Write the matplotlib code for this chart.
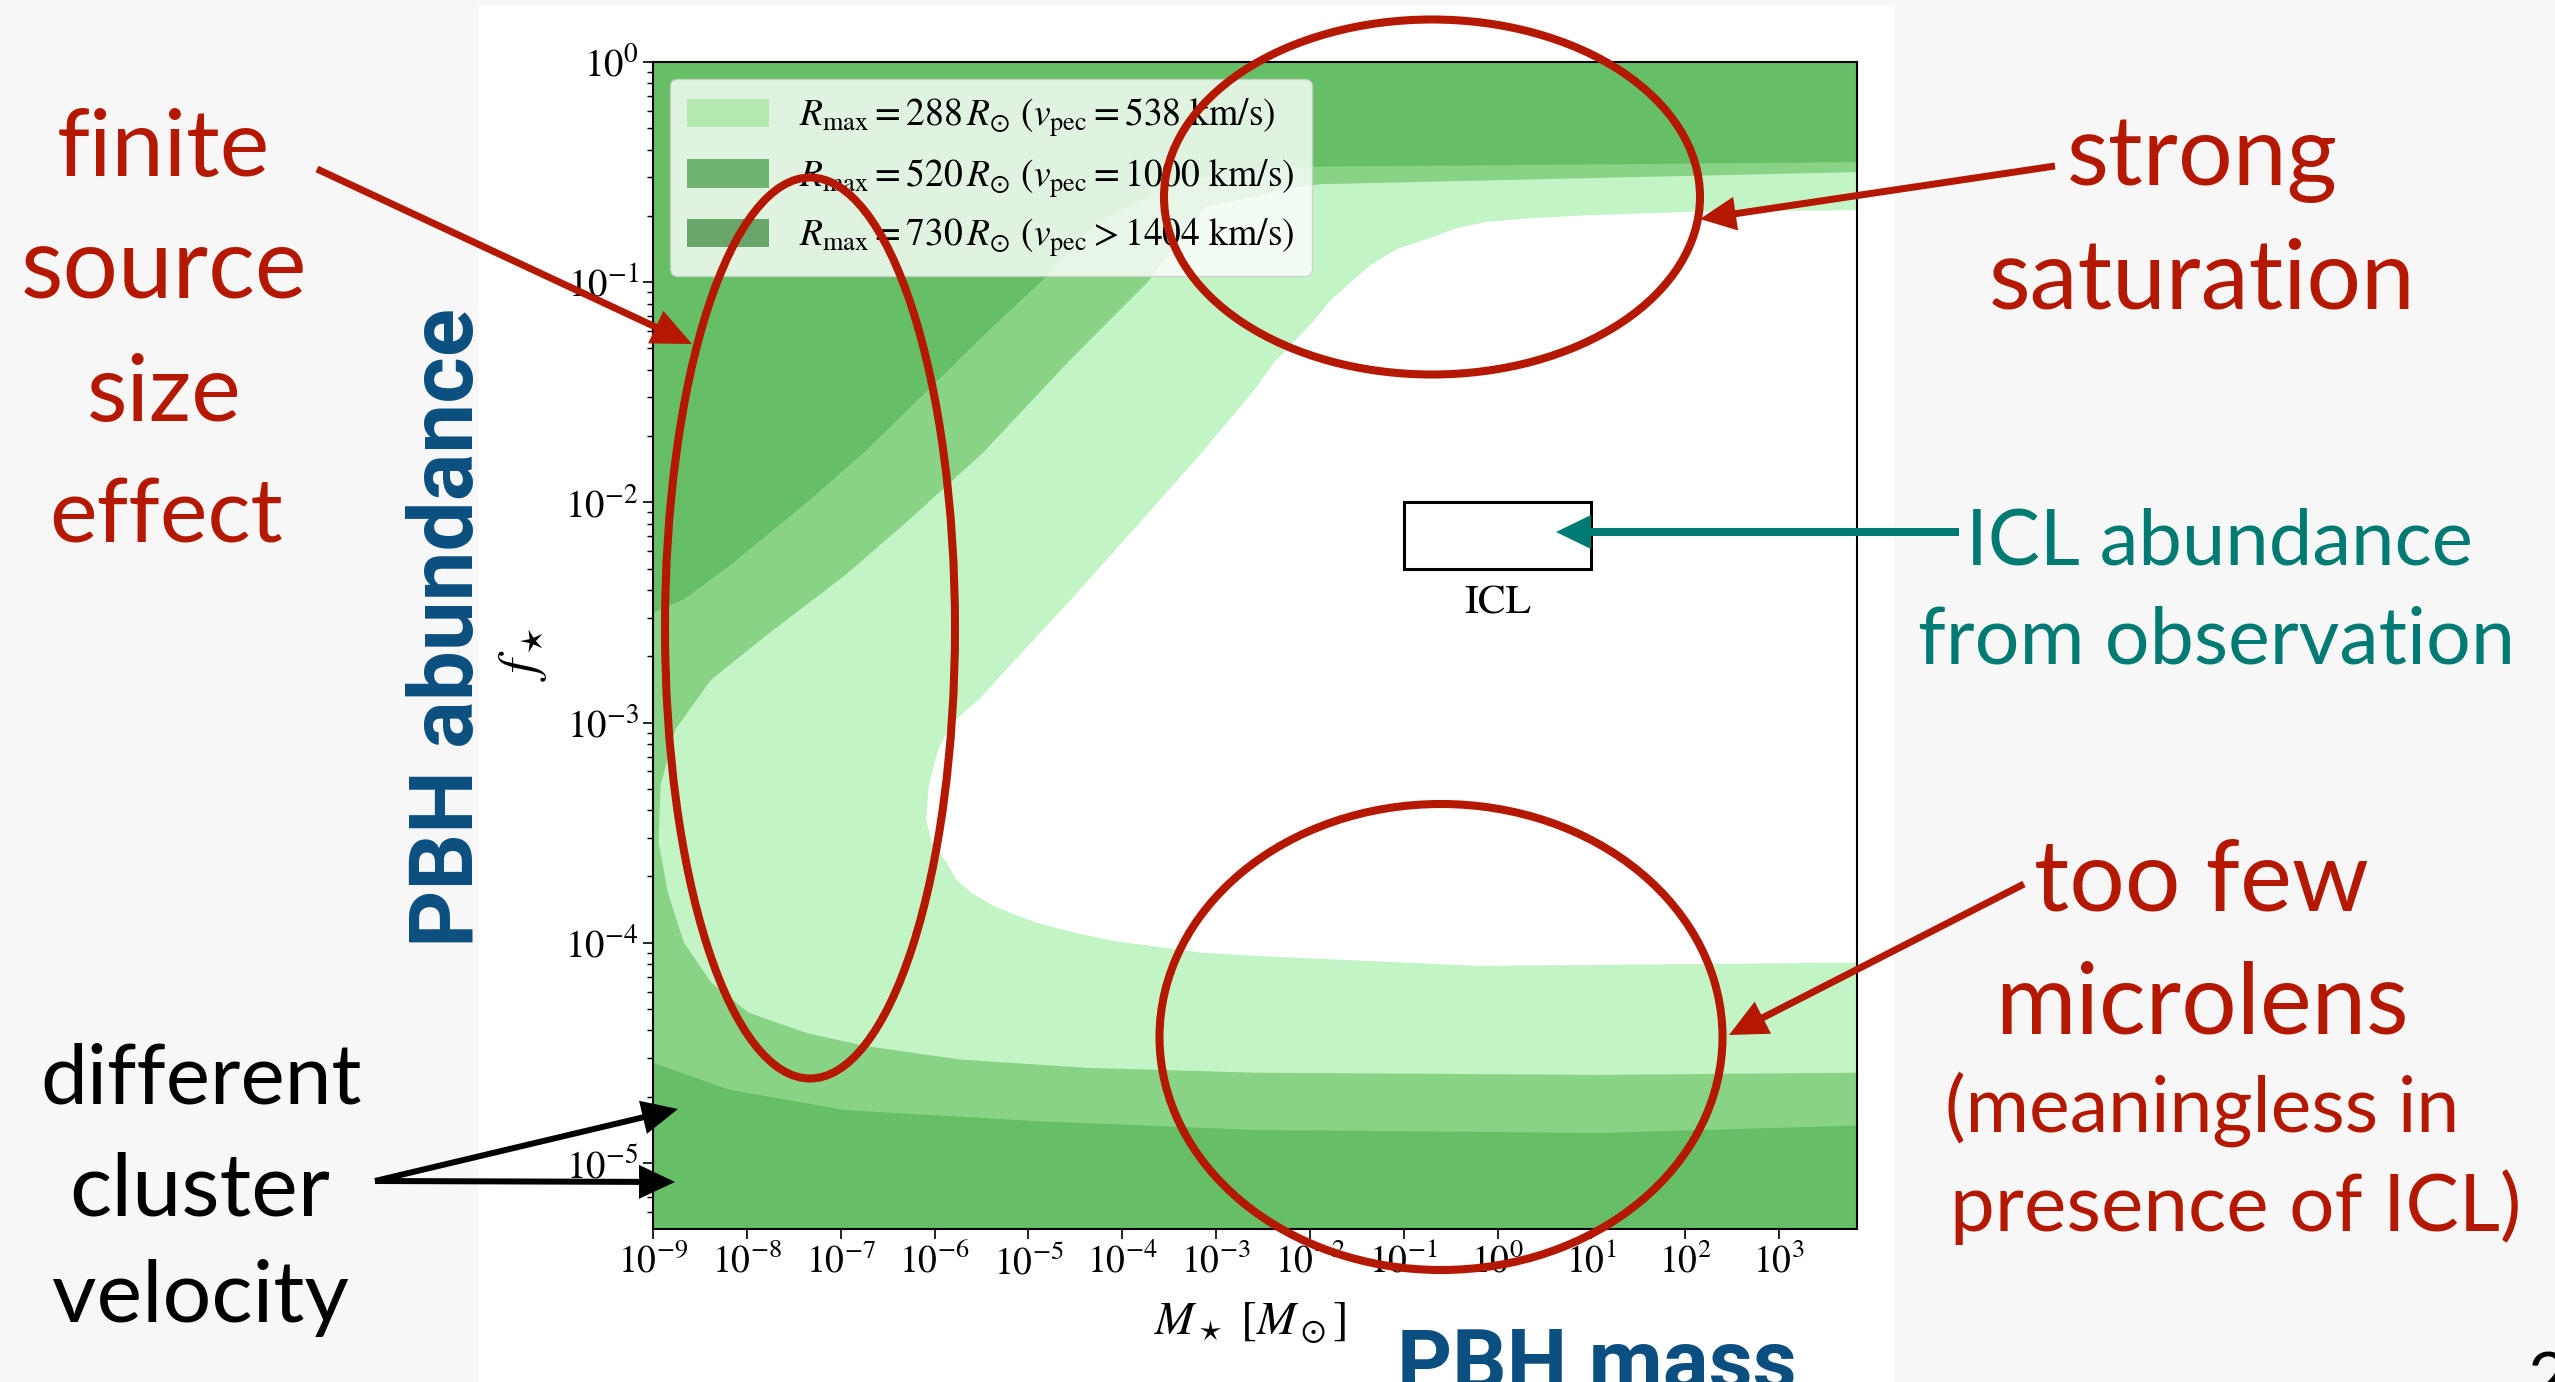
import numpy as np
import matplotlib
matplotlib.use("Agg")
import matplotlib.pyplot as plt
from matplotlib.patches import Ellipse, Patch, Rectangle, FancyArrow
from matplotlib.ticker import FixedLocator, NullLocator, LogLocator, LogFormatterSciNotation

W, H, DPI = 2555, 1382, 100

# ---- values (log10 M, log10 f) ----
m_lim = [-9.0, 3.83]
f_lim = [-5.3, 0.0]

# allowed (white) region, edge of the Rmax = 288 Rsun constraint
white_logm = [3.83, 2.11, 0.891, 0.277, -0.132, -0.459, -0.745, -1.072, -1.358, -1.563, -1.767,
              -1.972, -2.176, -2.381, -2.586, -3.15, -3.683, -4.50, -5.324, -5.523, -5.73, -5.89,
              -5.97, -6.06, -6.09, -6.03, -5.87, -5.77, -5.605, -5.40, -5.155, -4.91, -4.50, -4.09,
              -3.683, -3.15, -2.586, -0.19, 3.83]
white_logf = [-0.673, -0.68, -0.697, -0.712, -0.727, -0.758, -0.803, -0.849, -0.924, -1.0, -1.076,
              -1.182, -1.273, -1.364, -1.486, -1.773, -2.03, -2.42, -2.80, -2.894, -2.97, -3.06,
              -3.136, -3.286, -3.44, -3.545, -3.636, -3.712, -3.773, -3.826, -3.871, -3.909, -3.955, -3.992,
              -4.015, -4.045, -4.06, -4.105, -4.09]

# edge of the Rmax = 520 Rsun constraint
light_logm = [3.83, -1.89, -2.16, -3.12, -3.73, -4.58, -5.48, -6.30, -6.95, -7.78, -8.38, -8.76, -8.92,
              -8.94, -8.84, -8.67, -8.38, -7.98, -7.36, -6.75, -5.73, -4.38, -2.59, 1.09, 3.83]
light_logf = [-0.50, -0.555, -0.57, -0.66, -1.0, -1.364, -1.773, -2.09, -2.33, -2.60, -2.805, -3.03, -3.286,
              -3.545, -3.773, -4.0, -4.18, -4.318, -4.41, -4.468, -4.53, -4.568, -4.59, -4.60, -4.59]

# edge of the Rmax = 730 Rsun constraint
med_logm = [3.83, -2.32, -3.385, -4.24, -4.87, -5.40, -6.75, -7.36, -8.18, -8.67, -9.0,
            -9.0, -8.18, -6.95, -4.91, -2.59, 1.09, 3.83]
med_logf = [-0.455, -0.477, -0.536, -0.718, -1.0, -1.21, -1.773, -2.0, -2.286, -2.44, -2.5,
            -4.545, -4.668, -4.76, -4.81, -4.85, -4.864, -4.83]

icl_m = [0.1, 10.0]
icl_f = [0.005, 0.01]

legend_labels = [r"$R_{\rm max} = 288\,R_{\odot}$ ($v_{\rm pec} = 538$ km/s)",
                 r"$R_{\rm max} = 520\,R_{\odot}$ ($v_{\rm pec} = 1000$ km/s)",
                 r"$R_{\rm max} = 730\,R_{\odot}$ ($v_{\rm pec} > 1404$ km/s)"]
xtick_exp = list(range(-9, 4))
ytick_exp = list(range(-5, 1))

DARK, MED, LIGHT = "#66bf66", "#89d387", "#c3f4c6"
HANDLE_COLORS = ["#b4eab0", "#6fb56f", "#6aa56a"]
RED, TEAL, BLUE = "#b41800", "#007b73", "#0b4f80"

plt.rcParams["font.family"] = "STIXGeneral"
plt.rcParams["mathtext.fontset"] = "stix"

fig = plt.figure(figsize=(W / DPI, H / DPI), dpi=DPI, facecolor="#f7f7f7")
fig.add_artist(Rectangle((478 / W, 0), (1894 - 478) / W, (H - 5) / H, transform=fig.transFigure,
                         facecolor="white", edgecolor="none", zorder=-1))

ax = fig.add_axes([653 / W, 1 - 1229 / H, (1857 - 653) / W, (1229 - 62) / H])
ax.set_xscale("log")
ax.set_yscale("log")

ax.fill_between(10 ** np.array(m_lim), 10 ** f_lim[0], 10 ** f_lim[1], color=DARK, lw=0)
ax.fill(10 ** np.array(med_logm), 10 ** np.array(med_logf), color=MED, lw=0)
ax.fill(10 ** np.array(light_logm), 10 ** np.array(light_logf), color=LIGHT, lw=0)
ax.fill(10 ** np.array(white_logm), 10 ** np.array(white_logf), color="white", lw=0)

ax.set_xlim(10 ** m_lim[0], 10 ** m_lim[1])
ax.set_ylim(10 ** f_lim[0], 10 ** f_lim[1])

# ICL box
ax.add_patch(Rectangle((icl_m[0], icl_f[0]), icl_m[1] - icl_m[0], icl_f[1] - icl_f[0],
                       fill=False, ec="black", lw=2.2, zorder=3))
ax.annotate("ICL", xy=(np.sqrt(icl_m[0] * icl_m[1]), icl_f[0]), xytext=(0, -12),
            textcoords="offset points", ha="center", va="top", fontsize=30)

handles = [Patch(facecolor=c, edgecolor="none") for c in HANDLE_COLORS]
ax.legend(handles, legend_labels, loc="upper left", fontsize=27, framealpha=0.8,
          handlelength=2.2, handleheight=0.8, borderpad=0.45, labelspacing=0.45,
          borderaxespad=0.45)

ax.xaxis.set_major_locator(FixedLocator([10.0 ** e for e in xtick_exp]))
ax.xaxis.set_minor_locator(NullLocator())
ax.xaxis.set_major_formatter(LogFormatterSciNotation())
ax.yaxis.set_major_locator(FixedLocator([10.0 ** e for e in ytick_exp]))
ax.yaxis.set_minor_locator(LogLocator(base=10, subs=np.arange(2, 10), numticks=30))
ax.yaxis.set_major_formatter(LogFormatterSciNotation())
ax.tick_params(which="major", length=7, width=1.2)
ax.tick_params(axis="x", which="major", labelsize=27)
ax.tick_params(axis="y", which="major", labelsize=28)
ax.tick_params(which="minor", length=4, width=1)
for s in ax.spines.values():
    s.set_linewidth(1.5)

ax.set_xlabel(r"$M_\star\ [M_\odot]$", fontsize=34)
ax.set_ylabel(r"$f_\star$", fontsize=38)
ax.xaxis.set_label_coords((1250 - 653) / 1204, (1229 - 1300) / 1167)
ax.yaxis.set_label_coords((549 - 653) / 1204, (1229 - 654) / 1167)

# ---- slide overlay, pixel coordinates ----
ov = fig.add_axes([0, 0, 1, 1], zorder=5)
ov.set_xlim(0, W)
ov.set_ylim(H, 0)
ov.axis("off")

for cx, cy, w, h in [(810, 628, 290, 901), (1432, 197, 536, 355), (1441, 1037, 563, 466)]:
    ov.add_patch(Ellipse((cx, cy), w, h, fill=False, ec=RED, lw=5.8))


def arrow(x0, y0, x1, y1, color, width=7, hl=40, hw=36):
    ov.add_patch(FancyArrow(x0, y0, x1 - x0, y1 - y0, width=width, head_length=hl, head_width=hw,
                            length_includes_head=True, color=color, lw=0))


arrow(317, 169, 692, 344, RED)
arrow(2055, 166, 1700, 219, RED, hl=36, hw=34)
arrow(2024, 884, 1729, 1035, RED, hl=38, hw=36)
arrow(1959, 532, 1556, 532, TEAL, width=8, hl=35, hw=34)
arrow(375, 1181, 678, 1109, "black", width=6, hl=36, hw=34)
arrow(375, 1181, 675, 1182, "black", width=6, hl=36, hw=34)

renderer = fig.canvas.get_renderer()


def fit_text(x, y, s, width, rotation=0, **kw):
    t = ov.text(x, y, s, rotation=rotation, **kw)
    bb = t.get_window_extent(renderer)
    size = bb.height if rotation else bb.width
    t.set_fontsize(t.get_fontsize() * width / size)
    return t


slide_text = [
    ("finite", 163, 176, 214, RED),
    ("source", 164, 298, 287, RED),
    ("size", 164, 421, 155, RED),
    ("effect", 166, 542, 234, RED),
    ("strong", 2202, 185, 271, RED),
    ("saturation", 2202, 308, 427, RED),
    ("ICL abundance", 2219, 564, 508, TEAL),
    ("from observation", 2216, 663, 597, TEAL),
    ("too few", 2202, 910, 335, RED),
    ("microlens", 2202, 1033, 414, RED),
    ("(meaningless in", 2202, 1132, 516, RED),
    ("presence of ICL)", 2236, 1231, 572, RED),
    ("different", 201, 1104, 322, "black"),
    ("cluster", 200, 1216, 261, "black"),
    ("velocity", 200, 1322, 297, "black"),
]
for s, x, y, w, c in slide_text:
    fit_text(x, y, s, w, ha="center", va="baseline", color=c, family="Lato", fontsize=60)

fit_text(448, 628, "PBH abundance", 639, rotation=90, ha="center", va="center",
         color=BLUE, family="Roboto", weight="bold", fontsize=60)
fit_text(1597, 1390, "PBH mass", 400, ha="center", va="baseline",
         color=BLUE, family="Roboto", weight="bold", fontsize=60)
ov.text(2528, 1402, "2", fontsize=50, family="Lato", color="black")

fig.savefig("out.png", dpi=DPI, facecolor=fig.get_facecolor())
